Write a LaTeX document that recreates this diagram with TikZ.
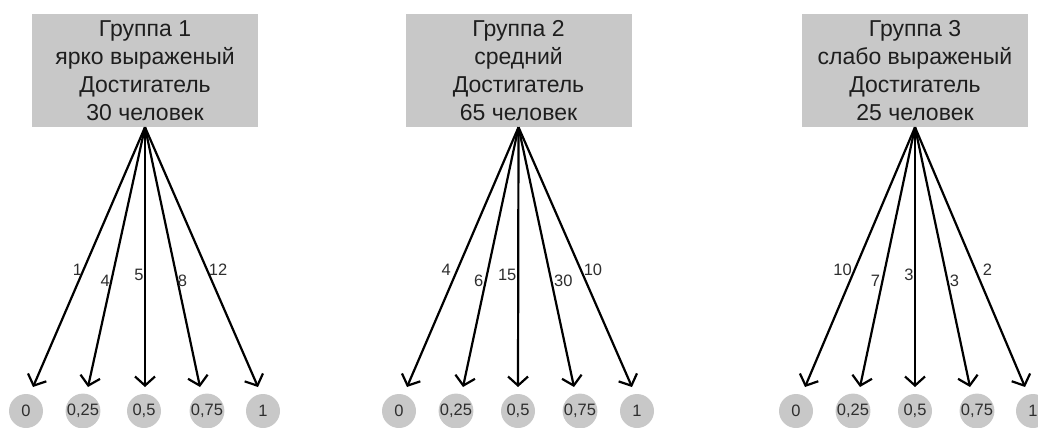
\documentclass[tikz,border=0pt]{standalone}
\usepackage{fontspec}
\setmainfont{Liberation Sans}
\usetikzlibrary{arrows.meta}
\definecolor{boxgray}{HTML}{C8C8C8}
\definecolor{txt}{HTML}{1E1E1E}
\definecolor{lbl}{HTML}{2E2E2E}
\tikzset{
  groupbox/.style={fill=boxgray, minimum width=226pt, minimum height=113pt, inner sep=0pt,
    align=center, text=txt, font=\fontsize{23}{28}\selectfont},
  valcircle/.style={circle, fill=boxgray, minimum size=34pt, inner sep=0pt, text=lbl,
    font=\fontsize{16.5}{18}\selectfont},
  flow/.style={line width=2.2pt, -{Straight Barb[length=9pt,width=20pt,line width=2.2pt]}},
  cnt/.style={text=lbl, font=\fontsize{16.5}{18}\selectfont, inner sep=0pt}
}
\begin{document}
\begin{tikzpicture}[x=1pt,y=-1pt]
\useasboundingbox (0,0) rectangle (1038,428);
% boxes
\node[groupbox] (g1) at (145,70.5) {Группа 1\\ярко выраженый\\Достигатель\\30 человек};
\node[groupbox] (g2) at (518.5,70.5) {Группа 2\\средний\\Достигатель\\65 человек};
\node[groupbox] (g3) at (915,70.5) {Группа 3\\слабо выраженый\\Достигатель\\25 человек};
% circles
\foreach \g/\a/\b/\c/\d/\e in {1/26/83/144/207/263, 2/399/456/518/580/637, 3/796/853/915/977/1033}{
  \node[valcircle] (g\g c0) at (\a,411) {0};
  \node[valcircle] (g\g c1) at (\b,411) {0,25};
  \node[valcircle] (g\g c2) at (\c,411) {0,5};
  \node[valcircle] (g\g c3) at (\d,411) {0,75};
  \node[valcircle] (g\g c4) at (\e,411) {1};
}
% arrow tips
\coordinate (g1t0) at (33,387);
\coordinate (g1t1) at (88,387);
\coordinate (g1t2) at (145,387);
\coordinate (g1t3) at (200,387);
\coordinate (g1t4) at (258,387);
\coordinate (g2t0) at (407,387);
\coordinate (g2t1) at (463,387);
\coordinate (g2t2) at (518,387);
\coordinate (g2t3) at (574,387);
\coordinate (g2t4) at (632,387);
\coordinate (g3t0) at (805,387);
\coordinate (g3t1) at (860,387);
\coordinate (g3t2) at (915,387);
\coordinate (g3t3) at (970,387);
\coordinate (g3t4) at (1025,387);
% group 1
\draw[flow] (g1.south) -- node[cnt, pos=0.55, xshift=-6pt] {1} (g1t0);
\draw[flow] (g1.south) -- node[cnt, pos=0.592, xshift=-6pt] {4} (g1t1);
\draw[flow] (g1.south) -- node[cnt, pos=0.57, xshift=-6pt] {5} (g1t2);
\draw[flow] (g1.south) -- node[cnt, pos=0.592, xshift=5pt] {8} (g1t3);
\draw[flow] (g1.south) -- node[cnt, pos=0.55, xshift=11pt] {12} (g1t4);
% group 2
\draw[flow] (g2.south) -- node[cnt, pos=0.55, xshift=-11pt] {4} (g2t0);
\draw[flow] (g2.south) -- node[cnt, pos=0.592, xshift=-7pt] {6} (g2t1);
\draw[flow] (g2.south) -- node[cnt, pos=0.57, xshift=-11pt] {15} (g2t2);
\draw[flow] (g2.south) -- node[cnt, pos=0.592, xshift=12pt] {30} (g2t3);
\draw[flow] (g2.south) -- node[cnt, pos=0.55, xshift=12pt] {10} (g2t4);
% group 3
\draw[flow] (g3.south) -- node[cnt, pos=0.55, xshift=-12pt] {10} (g3t0);
\draw[flow] (g3.south) -- node[cnt, pos=0.592, xshift=-7pt] {7} (g3t1);
\draw[flow] (g3.south) -- node[cnt, pos=0.57, xshift=-6pt] {3} (g3t2);
\draw[flow] (g3.south) -- node[cnt, pos=0.592, xshift=7pt] {3} (g3t3);
\draw[flow] (g3.south) -- node[cnt, pos=0.55, xshift=12pt] {2} (g3t4);
\end{tikzpicture}
\end{document}
